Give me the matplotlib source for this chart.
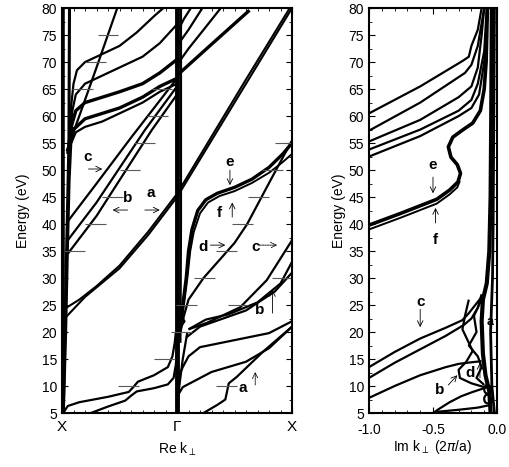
import numpy as np
import matplotlib.pyplot as plt

plt.rcParams['font.family'] = ['Liberation Sans', 'DejaVu Sans']
plt.rcParams['mathtext.fontset'] = 'dejavusans'

# ---- Re k panel (0 = X, 1 = Gamma, 2 = X) ----  points are (k, E)
x_band_a = [(0.0, 5), (0.0, 80)]
x_band_b = [(0.01, 5), (0.025, 20), (0.04, 35), (0.05, 45), (0.06, 55), (0.065, 80)]
x_band_c = [(0.015, 5), (0.035, 20), (0.05, 35), (0.065, 48), (0.08, 55), (0.1, 58)]

up1 = [(0.06, 55), (0.08, 62), (0.1, 66), (0.13, 68.5), (0.2, 70), (0.35, 71.5),
       (0.5, 73), (0.65, 75.5), (0.8, 78.5), (0.88, 80)]
up2 = [(0.07, 56), (0.09, 61), (0.12, 64), (0.2, 66), (0.35, 67.5), (0.5, 69),
       (0.7, 71), (0.85, 73.5), (1.0, 77)]
up3 = [(0.05, 53), (0.08, 58), (0.12, 61), (0.2, 62.5), (0.35, 63.5), (0.5, 64.5),
       (0.7, 66), (0.85, 68), (1.0, 70.5)]
up4 = [(0.06, 54), (0.1, 57.5), (0.2, 59.5), (0.35, 60.5), (0.5, 61.5), (0.7, 63.5),
       (0.85, 65.5), (1.0, 67)]
up5 = [(0.08, 55), (0.12, 57), (0.2, 58), (0.35, 59), (0.5, 60.5), (0.7, 62.5),
       (0.85, 64.5), (1.0, 66)]
steep = [(0.04, 53.5), (0.16, 60.6), (0.3, 69), (0.48, 80)]

c_left = [(0.05, 40.5), (0.3, 47.5), (0.6, 56), (0.8, 61.5), (1.0, 67)]
b1_left = [(0.05, 37), (0.3, 44), (0.72, 57.4), (1.0, 65.5)]
b2_left = [(0.05, 34.5), (0.3, 41.5), (0.78, 57.4), (1.0, 64)]

a1 = [(0.0, 22), (0.2, 26.5), (0.5, 31.8), (0.75, 38), (1.0, 45), (1.3, 55.5),
      (1.6, 66), (2.0, 80)]
a2 = [(0.0, 24), (0.15, 26), (0.3, 28.5), (0.5, 32.3), (0.75, 38.6), (1.0, 45.6),
      (1.3, 56.2), (1.6, 66.8), (1.98, 80)]

r1 = [(1.0, 67.5), (1.05, 68.5), (1.3, 73.3), (1.63, 79.6)]
r2 = [(1.0, 69.5), (1.1, 72.5), (1.25, 76.5), (1.38, 80)]
r3 = [(1.0, 73), (1.1, 76), (1.22, 80)]
r4 = [(1.0, 75.5), (1.06, 78), (1.12, 80)]

e_re = [(1.02, 20), (1.05, 25), (1.08, 30), (1.1, 35), (1.13, 39), (1.18, 42.5),
        (1.25, 44.5), (1.35, 45.7), (1.5, 46.8), (1.65, 48.3), (1.8, 50.5),
        (1.92, 53), (2.0, 55)]
f_re = [(1.03, 20), (1.06, 25), (1.09, 30), (1.115, 35), (1.145, 38.5), (1.2, 42),
        (1.27, 44), (1.37, 45.2), (1.5, 46.1), (1.65, 47.6), (1.8, 49.5),
        (1.92, 51.5), (2.0, 53)]
d_re = [(1.03, 20), (1.06, 23), (1.1, 26), (1.23, 30), (1.5, 36.5), (1.61, 40),
        (1.81, 48), (2.0, 55.5)]
c_re = [(1.1, 20.5), (1.26, 21.7), (1.55, 24.6), (1.78, 29.6), (2.0, 37)]
b1_re = [(1.08, 19), (1.2, 21), (1.4, 22.5), (1.6, 24), (1.85, 27.5), (2.0, 31)]
b2_re = [(1.1, 20.5), (1.25, 22.3), (1.45, 23.3), (1.7, 25.5), (1.9, 29), (2.0, 33)]
loop_re = [(1.0, 21.5), (1.04, 21.2), (1.065, 22), (1.04, 22.8), (1.0, 22.5)]

l1_re = [(1.0, 8), (1.05, 9.8), (1.3, 12.6), (1.6, 14.5), (1.8, 17), (2.0, 21)]
l2_re = [(1.02, 12), (1.05, 13.5), (1.1, 15.5), (1.2, 17.2), (1.5, 18.5),
         (1.8, 19.8), (2.0, 22)]
l3_re = [(1.23, 5), (1.35, 6.5), (1.42, 7.5), (1.45, 10.5), (1.52, 11.7),
         (1.75, 16.4), (2.0, 21)]
g_re = [(1.0, 5), (1.02, 10), (1.05, 15), (1.09, 20)]

u1_left = [(0.01, 5), (0.05, 6.3), (0.15, 7), (0.4, 8), (0.58, 8.9), (0.62, 9.8),
           (0.66, 10.8), (0.8, 12), (0.92, 13.5), (0.96, 15.5), (0.98, 18), (0.99, 20)]
u2_left = [(0.25, 5), (0.4, 6.2), (0.55, 7.3), (0.6, 8.2), (0.65, 9), (0.8, 9.6),
           (0.92, 10.3), (0.97, 11.5), (0.99, 14), (1.0, 17)]

gamma_a = [(1.0, 5), (1.0, 80)]
gamma_b = [(1.03, 18), (1.035, 40), (1.035, 80)]

# free-electron markers: energy, k position
mark_e = [80, 75, 70, 65, 55, 50, 45, 40, 35, 65, 60,
          10, 15, 20, 25, 30, 35, 40, 45, 50, 55, 10, 25, 30]
mark_k = [0.5, 0.4, 0.29, 0.18, 0.72, 0.59, 0.44, 0.29, 0.11, 0.87, 0.83,
          0.58, 0.89, 1.04, 1.08, 1.24, 1.43, 1.57, 1.71, 1.83, 1.94, 1.43, 1.53, 1.92]

# ---- Im k panel ----
v1 = [(-0.04, 80), (-0.045, 60), (-0.05, 45), (-0.06, 35), (-0.08, 29), (-0.11, 26),
      (-0.12, 22), (-0.11, 16), (-0.09, 12), (-0.06, 9), (-0.05, 5)]
v2 = [(-0.02, 80), (-0.025, 60), (-0.03, 40), (-0.035, 30), (-0.05, 20),
      (-0.04, 10), (-0.02, 5)]

im_u1 = [(-1, 60.5), (-0.6, 65.5), (-0.27, 70.2), (-0.22, 71), (-0.2, 73),
         (-0.15, 76), (-0.12, 80)]
im_u2 = [(-1, 57.3), (-0.6, 62.5), (-0.25, 68), (-0.2, 69.5), (-0.15, 73), (-0.1, 80)]
im_u3 = [(-1, 55.3), (-0.6, 59.3), (-0.3, 63.5), (-0.2, 65.5), (-0.15, 69),
         (-0.12, 75), (-0.1, 80)]
im_u4 = [(-1, 53.8), (-0.6, 57.5), (-0.3, 61), (-0.2, 63), (-0.15, 66), (-0.1, 72),
         (-0.08, 80)]
im_u5 = [(-1, 52.5), (-0.6, 56.3), (-0.3, 60), (-0.2, 61.5), (-0.14, 64), (-0.1, 70),
         (-0.07, 80)]

e_im = [(-1, 39.8), (-0.75, 42), (-0.47, 44.6), (-0.37, 46.3), (-0.305, 47.8),
        (-0.285, 49.4), (-0.31, 51), (-0.36, 52.4), (-0.38, 54.3), (-0.345, 56.1),
        (-0.27, 57.4), (-0.19, 58.7), (-0.13, 61), (-0.1, 65), (-0.085, 70),
        (-0.075, 80)]
f_im = [(-1, 39), (-0.75, 41.2), (-0.47, 43.8), (-0.37, 45.5), (-0.31, 46.8),
        (-0.29, 48)]

c1_im = [(-1, 13.5), (-0.8, 16.3), (-0.6, 18.8), (-0.4, 20.8), (-0.27, 22.2),
         (-0.22, 23.5), (-0.17, 25), (-0.12, 26.5)]
c2_im = [(-1, 11.5), (-0.8, 14.3), (-0.6, 16.8), (-0.4, 19.3), (-0.26, 21.3),
         (-0.2, 22.5), (-0.15, 24.5), (-0.12, 27)]
b_im = [(-1, 7.8), (-0.8, 10), (-0.6, 12), (-0.4, 13.5), (-0.3, 14.1),
        (-0.2, 14.4), (-0.12, 14.6)]
s1_im = [(-0.22, 26), (-0.25, 23), (-0.27, 20.5), (-0.22, 18), (-0.19, 16.5),
         (-0.24, 14.5), (-0.3, 13), (-0.29, 11.5), (-0.2, 10.5), (-0.1, 9.8)]
s2_im = [(-0.12, 26), (-0.18, 23), (-0.16, 20), (-0.22, 17.5), (-0.15, 15.5),
         (-0.12, 13.5), (-0.16, 11.5), (-0.1, 10.2)]
bot1_im = [(-0.5, 5), (-0.45, 5.8), (-0.37, 7), (-0.28, 8.1), (-0.19, 8.9),
           (-0.1, 9.6), (-0.05, 10)]
bot2_im = [(-0.48, 5.2), (-0.3, 5.6), (-0.15, 6), (-0.05, 6.5)]
small_loops = [(-0.075, 9.4), (-0.075, 7.6)]


def draw(ax, pts, lw=1.6):
    k, e = zip(*pts)
    ax.plot(k, e, color='black', lw=lw, solid_capstyle='butt')


fig = plt.figure(figsize=(5.10, 4.67), dpi=100)
ax1 = fig.add_axes([0.1216, 0.1156, 0.451, 0.867])
ax2 = fig.add_axes([0.7235, 0.1156, 0.251, 0.867])

# left panel
draw(ax1, x_band_a, 4)
draw(ax1, x_band_b, 2.2)
draw(ax1, x_band_c, 1.6)
for c in [up1, up2, up5, steep, c_left, b1_left, b2_left, r2, r3, r4,
          d_re, c_re, b1_re, b2_re, loop_re, l1_re, l2_re, l3_re, g_re,
          u1_left, u2_left]:
    draw(ax1, c)
for c in [up3, up4, r1, e_re]:
    draw(ax1, c, 2.4)
draw(ax1, f_re, 1.4)
draw(ax1, a1, 1.5)
draw(ax1, a2, 1.5)
draw(ax1, gamma_a, 3.5)
draw(ax1, gamma_b, 1.5)
ax1.hlines(mark_e, np.array(mark_k) - 0.09, np.array(mark_k) + 0.09,
           color='0.35', lw=0.8)

ax1.set_xlim(0, 2)
ax1.set_ylim(5, 80)
ax1.set_xticks([0, 1, 2])
ax1.set_xticklabels(['X', 'Γ', 'X'], fontsize=11)
ax1.set_yticks(np.arange(5, 81, 5))
ax1.set_yticks(np.arange(5, 80, 2.5), minor=True)
ax1.set_xticks(np.arange(0, 2.01, 0.1), minor=True)
ax1.set_ylabel('Energy (eV)', fontsize=10, labelpad=8)
ax1.set_xlabel(r'Re k$_{\perp}$', fontsize=10, labelpad=5)

# left panel labels
for txt, x, y in [('c', 0.22, 52.4), ('b', 0.57, 44.8), ('a', 0.77, 45.7),
                  ('e', 1.46, 51.5), ('f', 1.37, 42), ('d', 1.23, 35.7),
                  ('c', 1.68, 35.7), ('b', 1.72, 24), ('a', 1.57, 9.6)]:
    ax1.text(x, y, txt, fontsize=11, fontweight='bold', ha='center', va='center')

arr = dict(arrowstyle='->', lw=0.6, color='black', shrinkA=0, shrinkB=0)
arr_d = dict(arrowstyle='->', lw=0.6, color='black', ls=(0, (2, 1)), shrinkA=0, shrinkB=0)
for (x0, y0, x1, y1, st) in [(0.23, 50.2, 0.35, 50.2, arr), (0.57, 42.6, 0.44, 42.6, arr),
                             (0.72, 42.6, 0.85, 42.6, arr), (1.46, 50, 1.46, 47.2, arr),
                             (1.48, 41.3, 1.48, 44, arr), (1.29, 36.1, 1.42, 36.1, arr),
                             (1.72, 36.1, 1.87, 36.1, arr_d), (1.83, 23.5, 1.83, 27.8, arr),
                             (1.68, 10.2, 1.68, 12.6, arr_d)]:
    ax1.annotate('', xy=(x1, y1), xytext=(x0, y0), arrowprops=st)

# right panel
for c in [im_u1, im_u2, im_u3, im_u4, im_u5, c1_im, c2_im, b_im, s1_im, s2_im,
          bot1_im, bot2_im]:
    draw(ax2, c)
draw(ax2, v1, 3)
draw(ax2, v2, 2)
draw(ax2, e_im, 2.6)
draw(ax2, f_im, 1.4)
for (x, y) in small_loops:
    t = np.linspace(0, 2 * np.pi, 40)
    ax2.plot(x + 0.025 * np.cos(t), y + 0.8 * np.sin(t), color='black', lw=1.6)

ax2.set_xlim(-1, 0)
ax2.set_ylim(5, 80)
ax2.set_xticks([-1, -0.5, 0])
ax2.set_xticklabels(['-1.0', '-0.5', '0.0'], fontsize=10)
ax2.set_xticks(np.arange(-1, 0.01, 0.1), minor=True)
ax2.set_yticks(np.arange(5, 81, 5))
ax2.set_yticks(np.arange(5, 80, 2.5), minor=True)
ax2.set_ylabel('Energy (eV)', fontsize=10, labelpad=2)
ax2.set_xlabel(r'Im k$_{\perp}$ (2$\pi$/a)', fontsize=10, labelpad=1)

for txt, x, y in [('e', -0.5, 51), ('f', -0.48, 37), ('c', -0.6, 25.6),
                  ('b', -0.445, 9.3), ('d', -0.21, 12.4), ('a', -0.05, 21.8)]:
    ax2.text(x, y, txt, fontsize=11 if txt != 'a' else 9, fontweight='bold',
             ha='center', va='center')
for (x0, y0, x1, y1) in [(-0.5, 48.7, -0.5, 45.7), (-0.48, 40.2, -0.48, 43),
                         (-0.6, 24.2, -0.6, 20.9), (-0.38, 10.2, -0.31, 12),
                         (-0.133, 11.5, -0.133, 14.3)]:
    ax2.annotate('', xy=(x1, y1), xytext=(x0, y0), arrowprops=arr)

for ax in (ax1, ax2):
    ax.tick_params(which='both', direction='in', top=True, right=True, labelsize=10)
    ax.tick_params(which='major', length=4, width=0.8)
    ax.tick_params(which='minor', length=2, width=0.6)
    for s in ax.spines.values():
        s.set_linewidth(1.5)
ax1.tick_params(axis='x', which='major', labelsize=11, pad=5)
ax2.tick_params(axis='x', which='major', pad=7)

fig.savefig('out.png', dpi=100)
